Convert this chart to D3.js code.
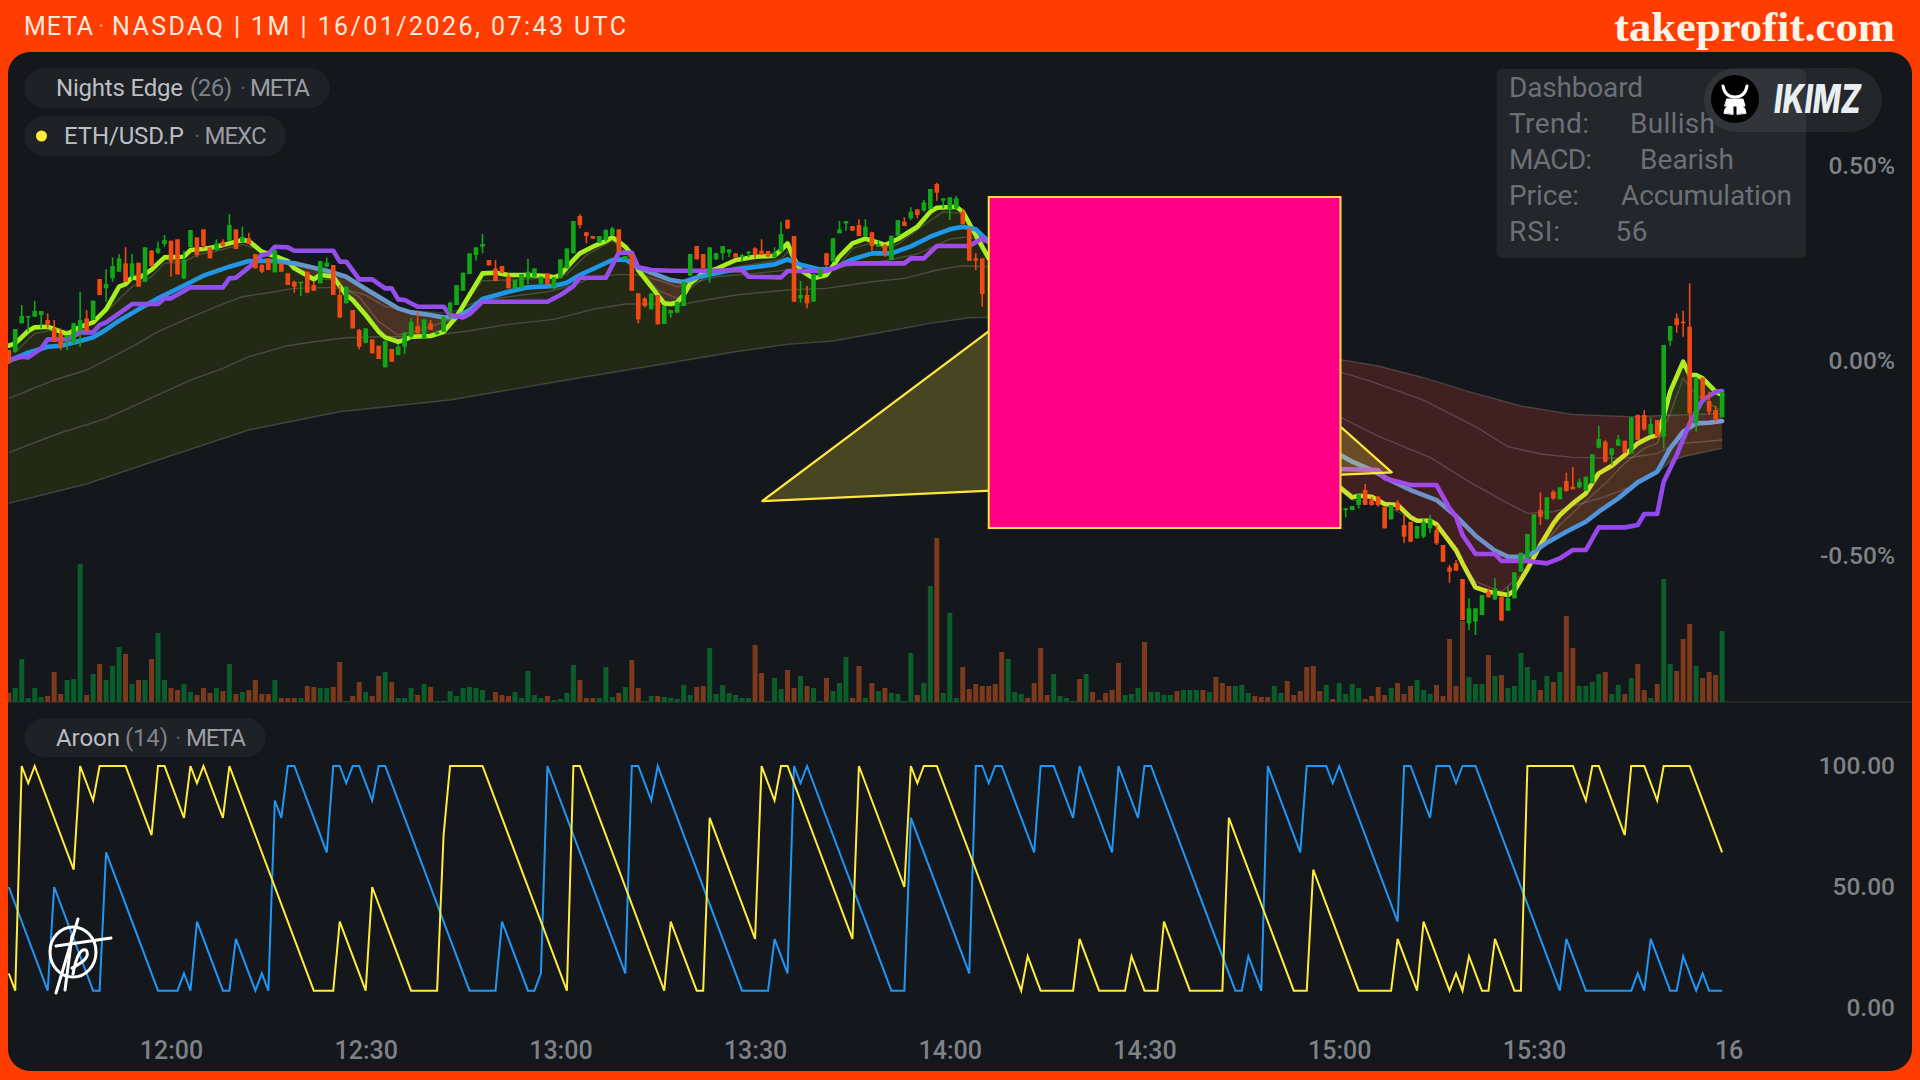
<!DOCTYPE html>
<html><head><meta charset="utf-8"><title>META Nights Edge</title>
<script src="https://cdn.jsdelivr.net/npm/d3@7/dist/d3.min.js"></script>
<style>html,body{margin:0;padding:0;background:#ff3d00;overflow:hidden}svg{display:block}text{font-family:Roboto,"Noto Sans",sans-serif}</style>
</head><body><svg id="c" width="1920" height="1080"></svg>
<script>
// Price values are ticks from the 0.00% reference: 1170 ticks = 1%.
const TICKS_PER_PCT = 1170;
const timeTickMinutes = [25,55,85,115,145,175,205,235,265];
const timeTickLabels = ["12:00","12:30","13:00","13:30","14:00","14:30","15:00","15:30","16"];
const priceTickPct = [0.5,0,-0.5];
const priceTickLabels = ["0.50%","0.00%","-0.50%"];
const aroonTicks = [100,50,0];
const aroonTickLabels = ["100.00","50.00","0.00"];

const candleMinutes = [...d3.range(0,151), ...d3.range(206,265)];
const candleOpen = [32,27,112,130,132,137,122,97,82,67,
52,92,127,122,245,217,247,267,292,252,
294,237,330,324,350,360,364,247,340,370,
394,340,332,357,360,394,357,367,320,287,
307,265,292,262,237,232,267,227,232,282,
287,197,172,152,92,54,64,45,-20,35,
17,42,72,104,67,112,80,87,147,167,
210,260,317,342,302,277,284,254,217,217,
247,252,230,262,220,247,277,322,434,385,
374,354,362,377,394,304,320,202,187,154,
197,110,142,144,164,255,344,320,257,304,
322,324,322,310,322,337,330,329,310,327,
422,374,187,197,177,252,322,297,382,412,
404,407,372,385,342,347,302,375,417,427,
454,450,455,530,480,452,457,447,397,307,307,
-448,-448,-433,-388,-416,-408,-438,-476,-426,-493,-483,-533,-528,-503,-508,-553,-620,-608,-655,-788,-783,-763,-693,-716,-708,-750,-713,-633,-593,-568,-448,-476,-393,-416,-361,-378,-380,-390,-368,-261,-243,-283,-255,-240,-278,-163,-163,-220,-178,-228,60,127,117,102,-188,-51,-121,-148,-170];
const candleHigh = [32,95,167,134,179,149,142,122,97,77,
114,207,152,180,245,274,310,320,340,320,
294,340,332,357,377,360,364,330,392,370,
394,340,364,364,440,394,402,384,320,290,
307,332,292,262,240,237,267,237,299,309,
287,227,222,152,95,97,64,45,60,35,
50,85,127,147,124,122,90,132,177,227,
264,322,340,380,302,302,284,262,242,260,
305,277,252,262,250,304,337,419,439,387,
374,374,394,402,394,314,320,202,190,202,
197,164,152,177,237,320,344,320,340,324,
344,334,322,320,329,340,364,329,340,417,
424,374,239,224,260,277,324,367,419,419,
404,424,424,387,362,350,375,422,430,460,
454,482,515,534,487,490,494,454,397,322,307,
-443,-436,-398,-370,-408,-406,-438,-433,-418,-463,-483,-496,-473,-463,-493,-553,-613,-598,-655,-713,-743,-703,-683,-653,-708,-678,-635,-576,-520,-461,-395,-410,-388,-380,-336,-320,-353,-348,-281,-196,-238,-263,-223,-240,-170,-161,-148,-170,-178,47,104,142,150,232,-48,-51,-93,-136,-95];
const candleLow = [-10,24,112,87,132,97,97,57,32,32,
52,42,87,122,197,177,237,267,237,242,
222,237,282,320,342,252,259,244,340,310,
337,307,330,342,360,335,357,350,277,262,
272,265,267,227,204,194,204,209,232,280,
197,127,172,97,34,52,22,5,-20,-3,
17,20,67,82,67,92,77,87,127,167,
210,260,300,322,286,239,262,217,214,217,
230,252,230,227,214,247,277,322,397,352,
366,354,357,374,327,304,210,112,160,154,
109,110,129,144,164,255,304,277,234,302,
302,310,310,297,310,307,317,312,307,327,
394,177,174,157,177,250,282,297,382,390,
390,374,372,330,342,312,302,375,404,422,
427,447,455,480,457,422,454,410,300,272,162,
-470,-448,-443,-433,-435,-438,-503,-476,-450,-546,-543,-533,-533,-516,-553,-603,-666,-630,-778,-808,-823,-763,-710,-718,-780,-750,-713,-633,-593,-568,-493,-476,-418,-416,-393,-386,-383,-390,-368,-263,-306,-313,-255,-276,-278,-238,-210,-223,-228,-263,45,84,72,-198,-213,-116,-163,-183,-170];
const candleClose = [-8,95,134,134,149,149,110,57,42,77,
112,122,87,180,197,230,284,307,237,292,
222,340,284,337,362,297,259,302,392,317,
344,307,352,344,407,335,372,350,277,267,
272,332,267,227,222,237,204,210,299,294,
197,130,222,97,42,97,22,5,60,-3,
42,85,117,82,124,92,87,132,174,227,
264,322,340,350,286,239,264,217,242,260,
267,277,252,230,250,304,337,419,407,374,
366,374,392,397,327,314,210,124,164,202,
109,164,152,177,237,320,304,277,340,322,
344,334,310,317,327,317,317,312,324,380,
397,177,197,172,260,274,287,367,394,419,
390,374,402,344,350,322,375,422,404,447,
437,475,515,504,487,490,487,410,300,300,200,
-443,-436,-401,-433,-433,-433,-503,-433,-448,-528,-543,-496,-483,-476,-548,-603,-633,-630,-778,-743,-743,-703,-710,-683,-780,-713,-635,-576,-520,-461,-468,-410,-413,-380,-391,-386,-363,-348,-281,-235,-303,-263,-236,-276,-170,-238,-206,-190,-228,47,104,107,112,-158,-53,-116,-153,-176,-95];

const volume = [9,14,43,4,14,5,6,30,8,22,
23,138,7,28,38,22,36,55,48,18,
22,22,43,69,22,14,12,18,10,7,
14,9,14,11,38,8,10,12,22,8,
8,22,4,4,4,4,16,15,14,14,
15,40,1,6,20,10,6,26,30,20,
4,4,14,7,18,15,1,1,11,6,
14,15,14,12,2,10,7,6,10,4,
31,7,4,6,2,3,9,37,22,4,
4,4,35,5,9,15,42,14,1,6,
6,5,4,3,17,7,15,16,54,8,
17,9,7,4,4,57,29,1,24,13,
32,14,26,16,14,1,24,11,19,45,
4,36,4,19,11,14,9,8,1,49,
7,19,116,164,9,89,4,35,13,18,
16,16,18,50,43,10,8,4,19,54,
7,28,6,4,1,23,28,10,2,9,
12,39,7,8,14,60,10,10,7,7,
11,12,12,12,12,10,25,19,16,16,
17,9,6,5,5,16,9,21,7,11,
35,36,11,17,3,19,8,18,14,3,
6,15,7,14,19,8,16,22,12,8,
17,6,63,16,81,25,18,18,47,26,
27,14,16,49,35,22,12,26,20,30,
86,54,16,16,20,28,30,8,17,8,
24,38,12,4,18,123,38,31,63,78,
36,24,30,27,71];
const volumeDir = ["rgggggrrrg","ggrgrgggrg","rgrggrrggr","rrgrgrgrrr","rgrrrgrrgg","rrgrrgrrgr","gggrgrgggg","gggggrrrgg","gggrggggrr","rgggrgrrgg","rgggggrrgg","gggggrrggg","rrgrggrggg","rrgrgrgggg","rggrgggrrr","rrrrgggrrr","rggggrgrrr","rrgggrgggg","rgggrgrrrg","ggrrrggrrr","rrrgrggggr","rrrgrrrggg","rrrrrgggrg","rgggggrgrg","rrggggrggr","grrgrggrrr","grrrg"].join("");

const limeMin = [0,1,3,4,6,8,9,11,13,15,17,18,19,20,22,24,27,28,30,32,34,36,37,39,41,43,44,47,48,50,51,52,53,55,57,58,60,61,62,65,67,69,71,73,75,77,80,83,84,85,87,88,90,92,93,94,95,96,97,99,101,102,103,104,105,107,109,112,115,118,119,120,121,122,124,126,128,130,132,134,135,137,140,142,143,146,147,149,151,205,207,208,210,212,214,216,217,219,220,223,224,226,228,231,232,234,236,238,239,241,243,244,245,247,249,251,253,254,255,256,258,259,260,261,263,264];
const limeVal = [45,52,89,100,102,87,80,102,115,154,222,230,250,247,273,310,312,332,335,342,352,362,359,327,314,299,277,244,258,252,224,197,182,137,87,70,57,62,72,74,87,132,197,262,264,257,257,254,250,257,302,322,342,359,370,357,342,317,272,222,172,170,175,197,232,264,275,302,312,315,332,352,307,272,247,257,312,352,366,354,347,365,402,447,459,462,447,377,307,-378,-410,-405,-408,-430,-433,-470,-480,-480,-491,-568,-608,-680,-693,-703,-690,-626,-553,-488,-463,-428,-398,-368,-338,-315,-283,-248,-228,-223,-168,-93,-3,-43,-43,-53,-93,-103];
const blueMin = [0,3,6,8,11,13,15,17,20,23,26,30,34,37,41,44,49,52,54,57,60,62,65,67,69,71,73,77,80,84,86,88,91,93,95,97,100,102,104,106,109,112,115,118,120,122,125,127,130,133,136,139,142,145,147,149,151,205,207,210,213,216,220,223,226,229,231,234,237,240,243,245,248,251,254,256,258,260,262,264];
const blueVal = [-1,24,42,45,59,70,93,120,154,187,216,255,282,299,299,292,270,252,227,192,157,145,137,130,132,152,185,207,220,224,234,257,284,302,304,279,257,242,236,250,262,274,281,289,304,288,274,276,304,322,322,343,372,394,402,394,357,-281,-303,-328,-360,-388,-418,-466,-525,-570,-588,-588,-546,-513,-483,-453,-413,-365,-333,-263,-213,-188,-186,-181];
const purpleMin = [0,2,3,5,6,9,11,13,14,15,17,19,23,24,25,28,33,34,35,37,39,40,41,43,44,50,51,52,54,56,58,59,60,61,63,67,68,70,71,73,83,85,87,88,92,94,96,97,99,102,108,113,114,119,120,126,129,138,139,141,143,148,150,151,205,211,212,216,220,222,223,224,226,229,230,234,237,239,241,243,245,249,251,252,254,255,257,259,261,263,264];
const purpleVal = [2,12,10,37,64,64,85,85,107,115,142,170,170,187,187,220,220,247,249,280,317,320,342,340,330,330,297,297,244,244,217,217,184,182,162,162,137,130,140,177,177,197,224,249,249,324,324,280,272,270,270,272,252,250,269,269,292,292,307,307,344,344,367,357,-325,-328,-353,-373,-373,-443,-468,-523,-580,-580,-601,-601,-608,-593,-568,-568,-500,-500,-493,-460,-460,-363,-283,-188,-118,-93,-91];

// Ribbon of slow averages, left (bullish) part
const ribbonAMin = [1,4,7,11,15,19,22,24,27,29,32,36,38,41,44,47,50,52,54,57,60,63,68,70,73,77,82,86,89,93,95,97,100,103,107,111,114,119,120,122,125,128,130,133,135,137,141,144,147,150,151];
const ribbonAVal = [27,82,92,87,147,222,252,292,297,317,329,349,337,307,280,247,242,212,192,117,77,90,122,167,240,242,247,259,317,360,327,274,212,187,247,277,287,304,327,272,262,287,337,354,337,350,407,447,442,362,302];
const ribbonBMin = [0,7,12,15,19,23,27,32,36,40,44,50,52,55,58,62,68,72,77,83,87,90,94,97,100,103,109,115,120,126,128,135,140,145,148,151];
const ribbonBVal = [-113,-58,-28,2,42,87,122,162,192,204,217,220,212,197,162,150,142,177,192,207,227,250,259,257,242,222,252,262,272,275,280,300,320,365,372,350];
const ribbonCMin = [0,7,15,28,33,37,43,47,52,57,64,71,77,84,90,95,99,103,105,112,120,126,133,138,143,147,151];
const ribbonCVal = [-276,-223,-173,-58,-23,12,45,57,69,72,72,90,109,124,154,170,170,164,174,197,212,217,237,247,272,285,282];
const ribbonDMin = [0,12,23,37,51,68,86,102,112,120,127,135,142,148,151];
const ribbonDVal = [-428,-370,-298,-208,-153,-118,-58,-6,27,49,59,87,112,129,130];
// Ribbon, right (bearish) part
const rightAMin = [205,207,212,216,220,223,226,230,233,236,239,242,246,249,252,254,256,258,260,264];
const rightAVal = [-388,-418,-433,-473,-498,-580,-663,-693,-643,-563,-493,-438,-368,-308,-263,-248,-158,-53,-103,-153];
const rightBMin = [205,210,218,226,231,236,241,249,254,257,259,264];
const rightBVal = [-33,-63,-118,-198,-258,-280,-290,-293,-278,-248,-246,-238];
const rightCMin = [205,211,219,225,231,234,238,242,246,250,254,256,258,264];
const rightCVal = [-168,-226,-290,-363,-428,-458,-453,-430,-408,-378,-338,-303,-288,-263];
const rightDMin = [205,211,218,225,233,241,250,257,264];
const rightDVal = [4,-16,-51,-93,-136,-161,-168,-163,-158];

// Aroon (14), vertices of the two lines
const aroonUpMin = [0,1,2,3,4,10,11,13,14,18,22,23,24,27,28,29,30,33,34,47,50,51,55,56,62,66,67,68,73,86,87,88,101,102,106,107,108,115,116,118,119,120,130,131,138,139,140,141,143,156,157,159,164,165,168,172,173,175,177,178,182,187,188,198,200,201,208,213,214,217,218,222,223,224,225,227,228,229,232,233,234,241,243,244,245,249,250,252,254,255,259,264];
const aroonUpVal = [14.29,7.14,100,92.86,100,57.14,100,85.71,100,100,71.43,100,100,78.57,100,92.86,100,78.57,100,7.14,7.14,35.71,7.14,50,7.14,7.14,71.43,100,100,7.14,100,100,7.14,35.71,7.14,7.14,78.57,28.57,100,85.71,100,100,28.57,100,50,100,92.86,100,100,7.14,21.43,7.14,7.14,28.57,7.14,7.14,21.43,7.14,7.14,35.71,7.14,7.14,78.57,7.14,7.14,57.14,7.14,7.14,28.57,7.14,35.71,7.14,14.29,7.14,21.43,7.14,7.14,28.57,7.14,7.14,100,100,85.71,100,100,71.43,100,100,85.71,100,100,64.29];
const aroonDownMin = [0,6,7,13,14,15,23,26,27,28,29,33,34,35,38,39,40,41,42,43,44,49,50,51,52,53,54,56,57,58,71,75,76,80,81,82,83,95,96,97,99,100,113,117,118,120,121,122,123,136,138,139,148,149,150,151,152,153,158,159,161,164,165,170,171,174,175,176,189,190,191,193,194,199,200,203,204,205,214,215,216,219,220,222,223,224,226,239,240,243,250,251,252,253,256,257,258,260,261,262,264];
const aroonDownVal = [50,7.14,50,7.14,7.14,64.29,7.14,7.14,14.29,7.14,35.71,7.14,7.14,28.57,7.14,14.29,7.14,85.71,78.57,100,100,64.29,100,100,92.86,100,100,85.71,100,100,7.14,7.14,35.71,7.14,7.14,14.29,100,14.29,100,100,85.71,100,7.14,7.14,28.57,14.29,100,92.86,100,7.14,7.14,78.57,14.29,100,100,92.86,100,100,64.29,100,100,78.57,100,64.29,100,78.57,100,100,7.14,7.14,21.43,7.14,100,64.29,100,100,92.86,100,35.71,100,100,78.57,100,100,92.86,100,100,7.14,28.57,7.14,7.14,14.29,7.14,28.57,7.14,7.14,21.43,7.14,14.29,7.14,7.14];

const triangleMinutes = [116.1,171.5,213.1];
const triangleTicks = [-421,387,-335];
const maskMinutes = [151,205.2];
const maskTicks = [491,-502];
const dashLabels = ["Trend:","MACD:","Price:","RSI:"];
const dashValues = ["Bullish","Bearish","Accumulation","56"];

const svg = d3.select("#c");
const defs = svg.append("defs");
const x = d3.scaleLinear().domain([0,264]).range([8.75,8.75+264*6.49]);
const y = d3.scaleLinear().domain([-0.5*TICKS_PER_PCT,0.5*TICKS_PER_PCT]).range([555.7,165.7]);
const yPct = d3.scaleLinear().domain([-0.5,0.5]).range([555.7,165.7]);
const yVol = d3.scaleLinear().domain([0,165]).range([702,537]);
const yAr = d3.scaleLinear().domain([0,100]).range([1008,766]);

const BG="#14171b";
svg.append("rect").attr("width",1920).attr("height",1080).attr("fill","#ff3d00");
svg.append("rect").attr("x",8).attr("y",52).attr("width",1904).attr("height",1019).attr("rx",22).attr("fill",BG);
defs.append("clipPath").attr("id","pane").append("rect").attr("x",8).attr("y",52).attr("width",1904).attr("height",1019).attr("rx",22);

function text(g,px,py,s,o={}){
  const t=g.append("text").attr("x",px).attr("y",py).text(s).attr("fill",o.fill||"#aaa")
    .attr("font-size",o.size||22).attr("dominant-baseline","central");
  if(o.anchor)t.attr("text-anchor",o.anchor);
  if(o.weight)t.attr("font-weight",o.weight);
  if(o.family)t.style("font-family",o.family);
  if(o.italic)t.attr("font-style","italic");
  if(o.len)t.attr("textLength",o.len).attr("lengthAdjust",o.adjust||"spacing");
  return t;
}
const pts=(m,v)=>m.map((d,i)=>[d,v[i]]);
const lineGen=d3.line().x(d=>x(d[0])).y(d=>y(d[1]));
function slice(m,v,a,b){return pts(m,v).filter(d=>d[0]>=a&&d[0]<=b);}
function gradient(id,stops){
  const g=defs.append("linearGradient").attr("id",id).attr("gradientUnits","userSpaceOnUse")
    .attr("x1",x(0)).attr("x2",x(264)).attr("y1",0).attr("y2",0);
  stops.forEach(s=>g.append("stop").attr("offset",s[0]/264).attr("stop-color",s[1]));
  return `url(#${id})`;
}

// plot content clipped to the panel
const plot=svg.append("g").attr("clip-path","url(#pane)");
plot.append("line").attr("x1",8).attr("x2",1912).attr("y1",702).attr("y2",702).attr("stroke","#2a2d31").attr("stroke-width",1.5);

// volume
plot.append("g").selectAll("rect").data(volume).join("rect")
  .attr("x",(d,i)=>x(i)-2.5).attr("width",5)
  .attr("y",d=>yVol(d)).attr("height",d=>yVol(0)-yVol(d))
  .attr("fill",(d,i)=>volumeDir[i]==="g"?"#0b5e2c":"#7c3a1c");

// ribbon fills
function fillPoly(points,color){plot.append("path").attr("d",lineGen(points)+"Z").attr("fill",color);}
const rev=a=>a.slice().reverse();
fillPoly([...pts(limeMin,limeVal).filter(d=>d[0]<=151),...rev(pts(ribbonDMin,ribbonDVal))],"#242915");
[[43.5,69.5],[96.7,104.8]].forEach(r=>{
  fillPoly([...slice(limeMin,limeVal,r[0],r[1]),...rev(slice(blueMin,blueVal,r[0],r[1]))],"#4a3324");
});
const limeR=slice(limeMin,limeVal,205,264), blueR=slice(blueMin,blueVal,205,264);
fillPoly([...pts(rightDMin,rightDVal).filter(d=>d[0]<=254),[255.3,-164],...rev(limeR.filter(d=>d[0]<=254))],"#412022");
fillPoly([...limeR.filter(d=>d[0]>=236&&d[0]<=254),[255.3,-164],...pts(rightDMin,rightDVal).filter(d=>d[0]>=257),
  ...rev(pts(rightCMin,rightCVal).filter(d=>d[0]>=256)),...rev(blueR.filter(d=>d[0]>=236&&d[0]<=254))],"#4b3022");
fillPoly([[255.3,-164],...limeR.filter(d=>d[0]>=256),...rev(pts(rightDMin,rightDVal).filter(d=>d[0]>=257))],"#2c3219");

// thin ribbon lines
[[ribbonAMin,ribbonAVal],[ribbonBMin,ribbonBVal],[ribbonCMin,ribbonCVal],[ribbonDMin,ribbonDVal],
 [rightAMin,rightAVal],[rightBMin,rightBVal],[rightCMin,rightCVal],[rightDMin,rightDVal]].forEach(s=>{
  plot.append("path").attr("d",lineGen(pts(s[0],s[1]))).attr("fill","none")
    .attr("stroke","rgba(255,255,255,0.17)").attr("stroke-width",1.4);
});

// averages
const limeStroke=gradient("gLime",[[0,"#a6f01f"],[150,"#a9ee20"],[205,"#c9e32a"],[250,"#d4de2b"],[255,"#b0ec24"],[264,"#a6f01f"]]);
const blueStroke=gradient("gBlue",[[0,"#1f97ea"],[40,"#2296e6"],[46,"#6a97c9"],[68,"#6a97c9"],[73,"#1f97ea"],[96,"#1f97ea"],[99,"#6a97c9"],[104,"#4f95d6"],[108,"#1f97ea"],[149,"#1f97ea"],[205,"#7092c8"],[232,"#6f92c8"],[238,"#4a94e2"],[254,"#5294dc"],[258,"#7a98d4"],[264,"#7a98d4"]]);
const purpleStroke=gradient("gPurple",[[0,"#8c50ee"],[205,"#a84ae6"],[240,"#a046ea"],[250,"#8f46f0"],[264,"#9a4ee8"]]);
[[limeMin,limeVal,limeStroke],[blueMin,blueVal,blueStroke],[purpleMin,purpleVal,purpleStroke]].forEach(s=>{
  plot.append("path").attr("d",lineGen(pts(s[0],s[1]))).attr("fill","none").attr("stroke",s[2])
    .attr("stroke-width",4.6).attr("stroke-linejoin","round").attr("stroke-linecap","round");
});

// candles
const cg=plot.append("g");
const GREEN="#12a716",RED="#f04a14";
candleMinutes.forEach((m,i)=>{
  const o=candleOpen[i],c=candleClose[i],col=c>=o?GREEN:RED;
  cg.append("line").attr("x1",x(m)).attr("x2",x(m)).attr("y1",y(candleHigh[i])).attr("y2",y(candleLow[i]))
    .attr("stroke",col).attr("stroke-width",1.6);
  const top=Math.min(y(o),y(c)),h=Math.max(Math.abs(y(o)-y(c)),1.5);
  cg.append("rect").attr("x",x(m)-2.3).attr("width",4.6).attr("y",top).attr("height",h).attr("fill",col);
});

// drawings: triangle and mask
plot.append("path").attr("d",lineGen(pts(triangleMinutes,triangleTicks))+"Z")
  .attr("fill","rgba(255,235,59,0.22)").attr("stroke","#ffe63b").attr("stroke-width",2.2).attr("stroke-linejoin","round");
plot.append("rect").attr("x",x(maskMinutes[0])).attr("width",x(maskMinutes[1])-x(maskMinutes[0]))
  .attr("y",y(maskTicks[0])).attr("height",y(maskTicks[1])-y(maskTicks[0]))
  .attr("fill","#ff0084").attr("stroke","#ffe13f").attr("stroke-width",2);

// Aroon
const arLine=d3.line().x(d=>x(d[0])).y(d=>yAr(d[1])).curve(d3.curveLinear);
plot.append("path").attr("d",arLine(pts(aroonDownMin,aroonDownVal))).attr("fill","none").attr("stroke","#2196f3").attr("stroke-width",2);
plot.append("path").attr("d",arLine(pts(aroonUpMin,aroonUpVal))).attr("fill","none").attr("stroke","#ffeb3b").attr("stroke-width",2);

// axes
const AXC="#7e8288";
const axT=svg.append("g").attr("transform","translate(0,1050)").call(
  d3.axisBottom(x).tickValues(timeTickMinutes).tickSize(0).tickPadding(0)
    .tickFormat((d,i)=>timeTickLabels[i]));
axT.select(".domain").remove();
axT.selectAll("text").attr("y",0).attr("dy",0).attr("dominant-baseline","central").attr("fill",AXC).attr("font-size",25).attr("font-weight",500).style("font-family","Roboto");
const axP=svg.append("g").attr("transform","translate(1895,-1)").call(
  d3.axisLeft(yPct).tickValues(priceTickPct).tickSize(0).tickPadding(0).tickFormat((d,i)=>priceTickLabels[i]));
axP.select(".domain").remove();
axP.selectAll("text").attr("x",0).attr("dy",0).attr("dominant-baseline","central").attr("fill",AXC).attr("font-size",24.5).attr("font-weight",500).style("font-family","Roboto");
const axA=svg.append("g").attr("transform","translate(1895,-1)").call(
  d3.axisLeft(yAr).tickValues(aroonTicks).tickSize(0).tickPadding(0).tickFormat((d,i)=>aroonTickLabels[i]));
axA.select(".domain").remove();
axA.selectAll("text").attr("x",0).attr("dy",0).attr("dominant-baseline","central").attr("fill",AXC).attr("font-size",24.5).attr("font-weight",500).style("font-family","Roboto");

// header
const hd=svg.append("g");
text(hd,24,26,"META",{fill:"#ffe9dc",size:25,len:69});
text(hd,98,26,"·",{fill:"#ff9a70",size:25});
text(hd,112,26,"NASDAQ | 1M | 16/01/2026, 07:43 UTC",{fill:"#ffe9dc",size:25,len:514});
text(hd,1614,26,"takeprofit.com",{fill:"#fff4ea",size:43,weight:700,family:"'Liberation Serif',serif",len:281,adjust:"spacingAndGlyphs"});

// legends
function pill(px,py,w,h){svg.append("rect").attr("x",px).attr("y",py).attr("width",w).attr("height",h).attr("rx",h/2).attr("fill","#1e2126");}
pill(24.5,68,305,40);
text(svg,56,88,"Nights Edge",{fill:"#bcbfc3",size:24,len:127});
text(svg,190,88,"(26)",{fill:"#7e8288",size:24,len:42});
text(svg,240,88,"·",{fill:"#555a60",size:24});
text(svg,250,88,"META",{fill:"#9a9da2",size:24,len:60});
pill(24.5,116,261.5,40);
svg.append("circle").attr("cx",41.5).attr("cy",136).attr("r",5.5).attr("fill","#ffeb3b");
text(svg,64,136,"ETH/USD.P",{fill:"#bcbfc3",size:24,len:120});
text(svg,194,136,"·",{fill:"#555a60",size:24});
text(svg,204.5,136,"MEXC",{fill:"#9a9da2",size:24,len:62});
pill(24.5,718,241,39);
text(svg,56,737.7,"Aroon",{fill:"#bcbfc3",size:24,len:64});
text(svg,125,737.7,"(14)",{fill:"#7e8288",size:24,len:43});
text(svg,175,737.7,"·",{fill:"#555a60",size:24});
text(svg,186,737.7,"META",{fill:"#9a9da2",size:24,len:60});

// dashboard
svg.append("rect").attr("x",1496.5).attr("y",69).attr("width",309.5).attr("height",189).attr("rx",6).attr("fill","rgba(255,255,255,0.065)");
text(svg,1509,87,"Dashboard",{fill:"#6c7077",size:28,len:134});
const dashX=[1630,1640,1621,1615.5], dashLen=[85,94,171,32], labelLen=[80,83,70,51];
dashLabels.forEach((l,i)=>{
  const py=123+i*36;
  text(svg,1509,py,l,{fill:"#6c7077",size:28,len:labelLen[i]});
  text(svg,dashX[i],py,dashValues[i],{fill:"#6c7077",size:28,len:dashLen[i]});
});

// IKIMZ badge
svg.append("rect").attr("x",1704).attr("y",68).attr("width",178).attr("height",64).attr("rx",32).attr("fill","rgba(255,255,255,0.065)");
svg.append("circle").attr("cx",1735).attr("cy",99).attr("r",24).attr("fill","#000");
const bull=svg.append("g").attr("fill","none").attr("stroke","#fff").attr("stroke-linecap","round");
bull.append("path").attr("d","M1723,86 Q1725,97 1735,97 Q1745,97 1747,86").attr("stroke-width",3);
bull.append("path").attr("d","M1727,99 L1743,99 L1745,106 L1725,106 Z").attr("fill","#fff").attr("stroke-width",1);
bull.append("path").attr("d","M1724,113 Q1725,104 1733,106 L1733,114 Z M1746,113 Q1745,104 1737,106 L1737,114 Z").attr("fill","#fff").attr("stroke-width",1);
text(svg,1774,98,"IKIMZ",{fill:"#e8eef2",size:40,weight:800,italic:true,family:"Inter,Roboto",len:87,adjust:"spacingAndGlyphs"});

// tp mark
const tp=svg.append("g").attr("fill","none").attr("stroke","#fff").attr("stroke-width",3).attr("stroke-linecap","round");
tp.append("ellipse").attr("cx",73).attr("cy",952).attr("rx",23).attr("ry",25);
tp.append("path").attr("d","M78,919 L56,993");
tp.append("path").attr("d","M72,936 L65,990");
tp.append("path").attr("d","M56,946 L111,938");
tp.append("path").attr("d","M73,974 Q78,947 86,950 Q92,958 72,968");
</script></body></html>
